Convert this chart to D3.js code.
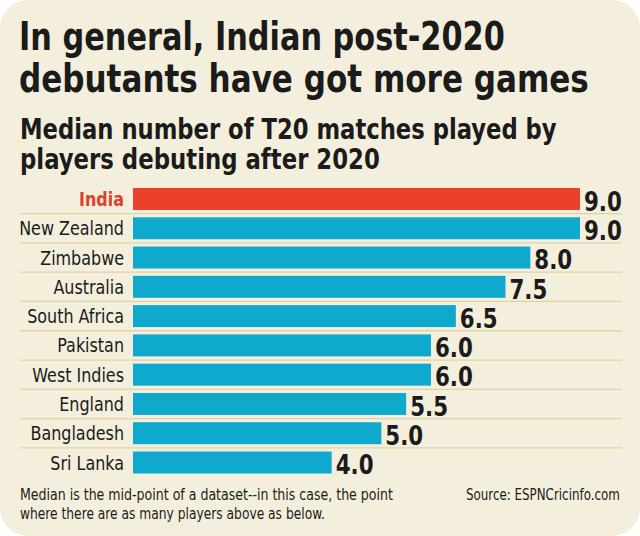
<!DOCTYPE html>
<html><head><meta charset="utf-8">
<script src="https://cdn.jsdelivr.net/npm/d3@7"></script>
<style>
html,body{margin:0;padding:0;background:#fff;}
svg{display:block;}
</style></head>
<body>
<script>
const countries = ["India","New Zealand","Zimbabwe","Australia","South Africa","Pakistan","West Indies","England","Bangladesh","Sri Lanka"];
const medians = [9.0,9.0,8.0,7.5,6.5,6.0,6.0,5.5,5.0,4.0];
const highlight = "India";
const titleLines = ["In general, Indian post-2020","debutants have got more games"];
const subtitleLines = ["Median number of T20 matches played by","players debuting after 2020"];
const noteLines = ["Median is the mid-point of a dataset--in this case, the point","where there are as many players above as below."];
const sourceText = "Source: ESPNCricinfo.com";

const W = 640, H = 536;
const svg = d3.select("body").append("svg").attr("width",W).attr("height",H);
svg.append("rect").attr("x",0).attr("y",0).attr("width",W).attr("height",H).attr("rx",28).attr("fill","#f3efdc");

const condensed = "'DejaVu Sans Condensed','DejaVu Sans',sans-serif";

// place text at (x,y) squeezed horizontally to a target width
function fitText(g, str, x0, y0, target, attrs) {
  const t = g.append("text").attr("x",0).attr("y",0).text(str);
  Object.entries(attrs).forEach(([k,v])=>t.attr(k,v));
  const w = t.node().getComputedTextLength();
  const s = target / w;
  t.attr("transform",`translate(${x0},${y0}) scale(${s},1)`);
  return t;
}

const tg = svg.append("g");
const titleW = [486,570];
titleLines.forEach((s,i)=>fitText(tg,s,19,50+i*42,titleW[i],
  {"font-family":condensed,"font-weight":"bold","font-size":38.5,"fill":"#1b1b1b"}));
const subW = [537,360];
subtitleLines.forEach((s,i)=>fitText(tg,s,20,139+i*30,subW[i],
  {"font-family":condensed,"font-weight":"bold","font-size":28,"fill":"#1b1b1b"}));

const x = d3.scaleLinear().domain([0,9]).range([133,580]);
const y = d3.scaleBand().domain(countries).range([184.5,477]).paddingInner(0.25).paddingOuter(0.12);
const step = y.step();

svg.append("g").selectAll("line").data(countries.slice(0,-1)).join("line")
  .attr("x1",20).attr("x2",622)
  .attr("y1",d=>y(d)+y.bandwidth()+(step-y.bandwidth())/2)
  .attr("y2",d=>y(d)+y.bandwidth()+(step-y.bandwidth())/2)
  .attr("stroke","#e0d3a3").attr("stroke-width",1.3);

svg.append("g").selectAll("rect").data(countries).join("rect")
  .attr("x",x(0)).attr("y",d=>y(d)).attr("height",y.bandwidth())
  .attr("width",(d,i)=>x(medians[i])-x(0))
  .attr("fill",d=>d===highlight?"#ea4128":"#0ea9cc");

svg.append("g").selectAll("text").data(countries).join("text")
  .attr("transform",d=>`translate(124,${y(d)+y.bandwidth()/2}) scale(0.91,1)`)
  .attr("dy","0.36em")
  .attr("text-anchor","end")
  .attr("font-family",condensed).attr("font-size",19.5)
  .attr("font-weight",d=>d===highlight?"bold":"normal")
  .attr("fill",d=>d===highlight?"#e0402a":"#1b1b1b")
  .text(d=>d);

svg.append("g").selectAll("text").data(countries).join("text")
  .attr("transform",(d,i)=>`translate(${x(medians[i])+4},${y(d)+y.bandwidth()/2+2}) scale(0.88,1)`)
  .attr("dy","0.36em")
  .attr("font-family",condensed).attr("font-weight","bold").attr("font-size",27)
  .attr("fill","#1b1b1b")
  .text((d,i)=>d3.format(".1f")(medians[i]));

const ng = svg.append("g");
const noteW = [373,305];
noteLines.forEach((s,i)=>fitText(ng,s,20,500+i*19,noteW[i],
  {"font-family":condensed,"font-size":16,"fill":"#1b1b1b"}));
fitText(ng,sourceText,466,500,154,{"font-family":condensed,"font-size":16,"fill":"#1b1b1b"});
</script>
</body></html>
